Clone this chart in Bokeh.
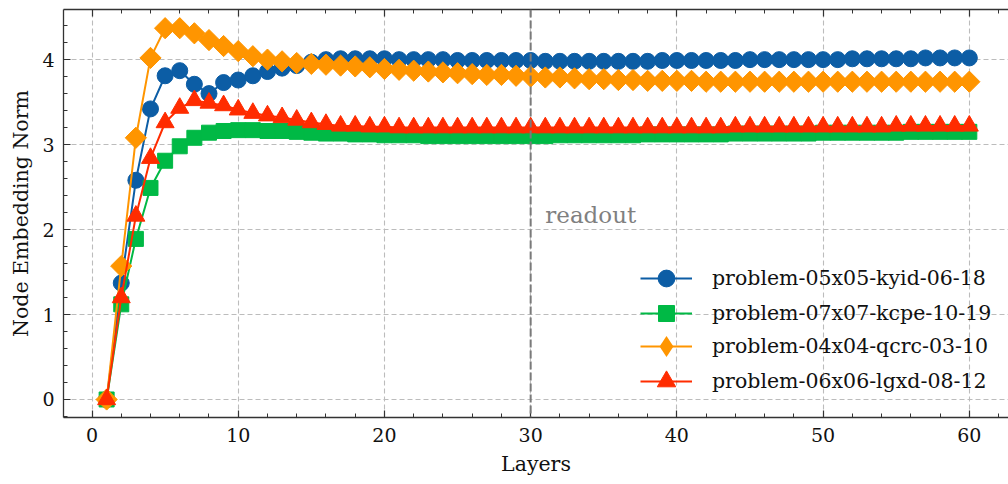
import math
from bokeh.plotting import figure
from bokeh.models import (Range1d, LinearAxis, SingleIntervalTicker, Legend,
                          LegendItem, Span, Label, CustomJSTickFormatter)
from bokeh.embed import file_html
from bokeh.resources import INLINE

layers = list(range(1, 61))

names = ["problem-05x05-kyid-06-18", "problem-07x07-kcpe-10-19",
         "problem-04x04-qcrc-03-10", "problem-06x06-lgxd-08-12"]

blue = [0.00, 1.37, 2.58, 3.42, 3.81, 3.87, 3.71, 3.60, 3.73, 3.76,
        3.81, 3.86, 3.90, 3.93, 3.97, 4.00, 4.01, 4.01, 4.01, 4.01,
        4.00, 4.00, 4.00, 4.00, 3.99, 3.99, 3.99, 3.99, 3.99, 3.99,
        3.98, 3.98, 3.98, 3.98, 3.98, 3.98, 3.98, 3.98, 3.99, 3.99,
        3.99, 3.99, 3.99, 3.99, 4.00, 4.00, 4.00, 4.00, 4.00, 4.00,
        4.00, 4.01, 4.01, 4.01, 4.01, 4.01, 4.02, 4.02, 4.02, 4.02]

green = [0.00, 1.12, 1.89, 2.49, 2.81, 2.98, 3.08, 3.14, 3.16, 3.17,
         3.17, 3.16, 3.16, 3.15, 3.14, 3.13, 3.13, 3.12, 3.12, 3.11,
         3.11, 3.11, 3.10, 3.10, 3.10, 3.10, 3.10, 3.10, 3.10, 3.10,
         3.10, 3.11, 3.11, 3.11, 3.11, 3.11, 3.11, 3.12, 3.12, 3.12,
         3.12, 3.12, 3.12, 3.13, 3.13, 3.13, 3.13, 3.13, 3.13, 3.14,
         3.14, 3.14, 3.14, 3.14, 3.14, 3.15, 3.15, 3.15, 3.15, 3.15]

orange = [0.00, 1.57, 3.08, 4.02, 4.37, 4.37, 4.31, 4.23, 4.16, 4.10,
          4.04, 4.00, 3.98, 3.96, 3.95, 3.94, 3.93, 3.92, 3.91, 3.89,
          3.88, 3.87, 3.86, 3.85, 3.84, 3.83, 3.82, 3.82, 3.81, 3.80,
          3.79, 3.79, 3.78, 3.77, 3.77, 3.76, 3.76, 3.75, 3.75, 3.75,
          3.75, 3.74, 3.74, 3.74, 3.74, 3.74, 3.74, 3.74, 3.74, 3.74,
          3.74, 3.74, 3.74, 3.74, 3.74, 3.74, 3.74, 3.74, 3.74, 3.74]

red = [0.00, 1.20, 2.16, 2.84, 3.26, 3.43, 3.52, 3.49, 3.46, 3.41,
       3.37, 3.34, 3.32, 3.29, 3.26, 3.24, 3.22, 3.22, 3.21, 3.21,
       3.20, 3.20, 3.20, 3.20, 3.20, 3.20, 3.20, 3.20, 3.20, 3.20,
       3.20, 3.20, 3.20, 3.20, 3.20, 3.20, 3.20, 3.20, 3.20, 3.20,
       3.20, 3.20, 3.20, 3.21, 3.21, 3.21, 3.21, 3.21, 3.21, 3.21,
       3.21, 3.21, 3.21, 3.21, 3.22, 3.22, 3.22, 3.22, 3.22, 3.22]

readout_layer = 30

FONT = "DejaVu Serif"
TICK_COLOR = "#333333"

p = figure(width=1008, height=484, output_backend="svg", toolbar_location=None,
           x_range=Range1d(-1.95, 62.68), y_range=Range1d(-0.212, 4.59),
           min_border_left=63, min_border_right=0, min_border_top=9,
           min_border_bottom=67)
p.outline_line_color = None
p.background_fill_color = "white"
p.border_fill_color = "white"


def style_axis(ax):
    ax.major_tick_in = 7
    ax.major_tick_out = 0
    ax.minor_tick_in = 4
    ax.minor_tick_out = 0
    ax.axis_line_color = TICK_COLOR
    ax.axis_line_width = 1.3
    ax.major_tick_line_color = TICK_COLOR
    ax.minor_tick_line_color = TICK_COLOR
    ax.major_tick_line_width = 1.2
    ax.minor_tick_line_width = 1.0
    ax.major_label_text_font = FONT
    ax.major_label_text_font_size = "19px"
    ax.major_label_text_color = "#111111"
    ax.axis_label_text_font = FONT
    ax.axis_label_text_font_size = "20.5px"
    ax.axis_label_text_font_style = "normal"
    ax.axis_label_text_color = "#111111"


xt = SingleIntervalTicker(interval=10, num_minor_ticks=5)
yt = SingleIntervalTicker(interval=1, num_minor_ticks=5)

p.xaxis.ticker = xt
p.yaxis.ticker = yt
p.xaxis.axis_label = "Layers"
p.yaxis.axis_label = "Node Embedding Norm"
style_axis(p.xaxis[0])
style_axis(p.yaxis[0])
p.xaxis.major_label_standoff = 10
p.yaxis.major_label_standoff = 9
p.xaxis.axis_label_standoff = 7
p.yaxis.axis_label_standoff = 6

top = LinearAxis(ticker=SingleIntervalTicker(interval=10, num_minor_ticks=5),
                 formatter=CustomJSTickFormatter(code="return ''"))
style_axis(top)
top.major_label_standoff = 0
p.add_layout(top, "above")

p.xgrid.ticker = xt
p.ygrid.ticker = yt
for g in (p.xgrid[0], p.ygrid[0]):
    g.grid_line_color = "#bcbcbc"
    g.grid_line_dash = "5 3"
    g.grid_line_width = 1.1

# (values, colour, plot marker, plot size, angle, legend marker, legend box)
series = [
    (blue, "#0C5DA5", "circle", 16, 0.0, None, 42),
    (green, "#00B945", "square", 15, 0.0, None, 40),
    (orange, "#FF9500", "square", 15, math.pi / 4, "diamond", 52),
    (red, "#FF2C00", "triangle", 18, 0.0, None, 46),
]

row_centers = [139.0, 104.3, 70.6, 35.6]  # legend row centres, px above frame bottom

for (vals, color, marker, size, ang, lmarker, box), name, rc in zip(series, names, row_centers):
    ln = p.line(layers, vals, line_color=color, line_width=2)
    sc = p.scatter(layers, vals, marker=marker, size=size, angle=ang,
                   fill_color=color, line_color=color, line_width=1)
    if lmarker is not None:
        # legend-only glyph (size 0 on the plot; the legend sizes it itself)
        sc = p.scatter(layers, vals, marker=lmarker, size=0,
                       fill_color=color, line_color=None)
    leg = Legend(items=[LegendItem(label=name, renderers=[ln, sc])],
                 location=(577, rc - box / 2), padding=0, margin=0,
                 glyph_width=52, glyph_height=box, label_height=box,
                 label_standoff=20, spacing=0,
                 label_text_font=FONT, label_text_font_size="20.5px",
                 label_text_color="#111111",
                 border_line_alpha=0, background_fill_alpha=0)
    p.add_layout(leg)

p.add_layout(Span(location=readout_layer, dimension="height",
                  line_color="#7a7a7a", line_dash="8 3", line_width=2))
p.add_layout(Label(x=readout_layer + 1, y=2.08, y_offset=8, text="readout",
                   text_font=FONT, text_font_size="23px",
                   text_color="#808080", text_baseline="alphabetic"))

open("out.html", "w").write(file_html(p, INLINE))
